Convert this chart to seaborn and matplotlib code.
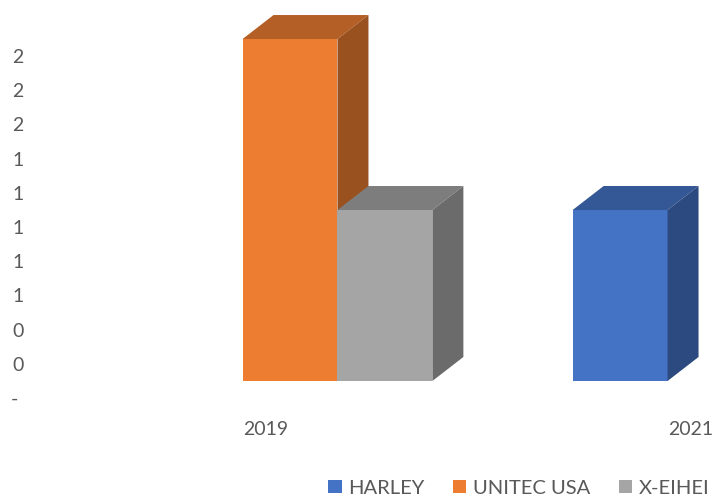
import pandas as pd
import numpy as np
import seaborn as sns
import matplotlib.pyplot as plt
from matplotlib.patches import Polygon
from matplotlib.transforms import ScaledTranslation
from matplotlib.colors import to_rgb

sns.set_style("white")
plt.rcParams["font.family"] = ["Lato", "DejaVu Sans"]

# Data
years = ["2019", "2021"]
brands = ["HARLEY", "UNITEC USA", "X-EIHEI"]
harley = [0, 1]
unitec_usa = [2, 0]
x_eihei = [1, 0]
brand_colors = ["#4472C4", "#ED7D31", "#A5A5A5"]
y_ticks = [0, 0.2, 0.4, 0.6, 0.8, 1.0, 1.2, 1.4, 1.6, 1.8, 2.0]
y_tick_labels = ["- ", "0", "0", "1", "1", "1", "1", "1", "2", "2", "2"]

df = pd.DataFrame({
    "Year": years * 3,
    "Brand": [b for b in brands for _ in years],
    "Count": harley + unitec_usa + x_eihei,
})

fig = plt.figure(figsize=(7.15, 4.96), dpi=100)
ax = fig.add_axes([30 / 715, 101 / 496, 685 / 715, 390 / 496])

sns.barplot(
    data=df,
    x="Year",
    y="Count",
    hue="Brand",
    hue_order=brands,
    palette=brand_colors,
    width=0.67,
    saturation=1,
    linewidth=0,
    ax=ax,
)

ax.set_xlim(-0.6118, 1.0)
ax.set_ylim(-0.0819, 2.199)

# fake 3D depth: top and side faces for every bar
dx, dy = 31 / 425, 24 / 171
for container in ax.containers:
    for bar in container:
        h = bar.get_height()
        if h <= 0:
            continue
        x0 = bar.get_x()
        x1 = x0 + bar.get_width()
        rgb = np.array(to_rgb(bar.get_facecolor()))
        z = 2 + x0
        bar.set_zorder(z)
        ax.add_patch(Polygon(
            [(x0, h), (x1, h), (x1 + dx, h + dy), (x0 + dx, h + dy)],
            closed=True, facecolor=rgb * 0.76, linewidth=0, zorder=z
        ))
        ax.add_patch(Polygon(
            [(x1, 0), (x1 + dx, dy), (x1 + dx, h + dy), (x1, h)],
            closed=True, facecolor=rgb * 0.65, linewidth=0, zorder=z
        ))

for side in ax.spines.values():
    side.set_visible(False)
ax.grid(False)
ax.set_xlabel("")
ax.set_ylabel("")

ax.set_yticks(y_ticks)
ax.set_yticklabels(y_tick_labels)
ax.tick_params(axis="y", length=0, pad=4.5, labelsize=14, labelcolor="#595959")
ax.tick_params(axis="x", length=0, pad=19, labelsize=14, labelcolor="#595959")
for label in ax.get_yticklabels():
    label.set_transform(label.get_transform() + ScaledTranslation(0, -0.17, fig.dpi_scale_trans))
for label in ax.get_xticklabels():
    label.set_transform(label.get_transform() + ScaledTranslation(-0.245, 0, fig.dpi_scale_trans))

sns.move_legend(
    ax,
    loc="center",
    bbox_to_anchor=(519 / 715, 8 / 496),
    bbox_transform=fig.transFigure,
    ncol=3,
    title=None,
    frameon=False,
    fontsize=14.5,
    handlelength=0.65,
    handleheight=0.65,
    handletextpad=0.35,
    columnspacing=1.4,
    labelcolor="#595959",
)

fig.savefig("out.png", dpi=100)
